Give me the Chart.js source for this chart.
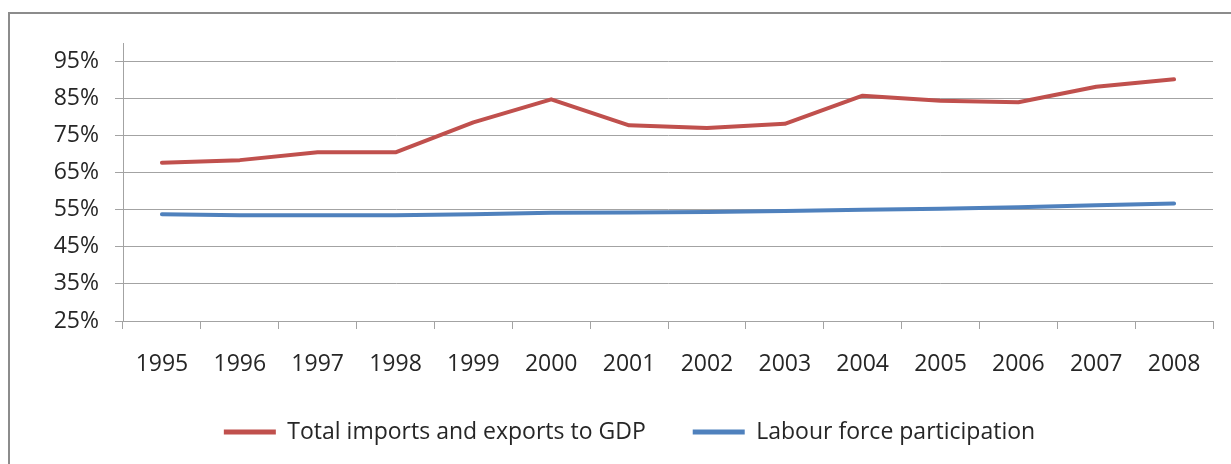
<!DOCTYPE html>
<html>
<head>
<meta charset="utf-8">
<title>Openness and labour force participation</title>
<script src="https://cdn.jsdelivr.net/npm/chart.js@4/dist/chart.umd.min.js"></script>
<style>
  html, body { margin: 0; padding: 0; background: #fff; overflow: hidden; }
  #frame {
    position: absolute; left: 8px; top: 12px;
    width: 1400px; height: 600px;
    border-left: 2px solid #8c8c8c; border-top: 2px solid #8c8c8c;
  }
  #chart { position: absolute; left: 0; top: 0; }
</style>
</head>
<body>
<div id="frame"></div>
<canvas id="chart" width="1231" height="464"></canvas>
<script>
const years = ["1995", "1996", "1997", "1998", "1999", "2000", "2001",
               "2002", "2003", "2004", "2005", "2006", "2007", "2008"];
// share of GDP, percent
const tradeToGdp = [67.7, 68.4, 70.5, 70.5, 78.6, 84.8, 77.8,
                    77.1, 78.2, 85.8, 84.4, 84.0, 88.2, 90.2];
// percent of working-age population
const labourForce = [53.8, 53.5, 53.5, 53.5, 53.8, 54.2, 54.3,
                     54.4, 54.7, 55.0, 55.3, 55.7, 56.2, 56.7];
const yTicks = [25, 35, 45, 55, 65, 75, 85, 95];

const red = "#c0504d";
const blue = "#4f81bd";
const gridColor = "#a3a3a3";
const textColor = "#262626";

Chart.defaults.font.family = "'Open Sans', sans-serif";
Chart.defaults.font.size = 23;
Chart.defaults.color = textColor;

// legend swatches as flat strokes, no outline
function legendLabels(chart) {
  return Chart.defaults.plugins.legend.labels.generateLabels(chart).map((item) => {
    item.lineWidth = 0;
    return item;
  });
}

const ctx = document.getElementById("chart").getContext("2d");
new Chart(ctx, {
  type: "line",
  data: {
    labels: years,
    datasets: [
      {
        label: "Total imports and exports to GDP",
        data: tradeToGdp,
        borderColor: red,
        backgroundColor: red,
      },
      {
        label: "Labour force participation",
        data: labourForce,
        borderColor: blue,
        backgroundColor: blue,
      },
    ],
  },
  options: {
    responsive: false,
    animation: false,
    events: [],
    elements: {
      line: { borderWidth: 4, tension: 0, borderCapStyle: "round", borderJoinStyle: "round" },
      point: { radius: 0 },
    },
    layout: { padding: { top: 43, right: 18, bottom: 10.5, left: 46 } },
    scales: {
      x: {
        offset: true,
        grid: {
          offset: true,
          drawOnChartArea: false,
          drawTicks: true,
          tickLength: 8,
          color: gridColor,
        },
        border: { display: true, color: gridColor, width: 1 },
        ticks: { padding: 22, maxRotation: 0, autoSkip: false },
        afterFit: (scale) => { scale.height = 52.5; },
      },
      y: {
        min: 25,
        max: 100,
        afterBuildTicks: (scale) => {
          scale.ticks = yTicks.map((v) => ({ value: v }));
        },
        grid: { color: gridColor, tickLength: 8 },
        border: { display: true, color: gridColor, width: 1 },
        ticks: {
          padding: 16,
          callback: (v) => v + "%",
        },
        afterFit: (scale) => { scale.width = 77; },
      },
    },
    plugins: {
      tooltip: { enabled: false },
      legend: {
        position: "bottom",
        labels: {
          boxWidth: 52,
          boxHeight: 5,
          padding: 47,
          color: textColor,
          generateLabels: legendLabels,
        },
      },
    },
  },
});
</script>
</body>
</html>
